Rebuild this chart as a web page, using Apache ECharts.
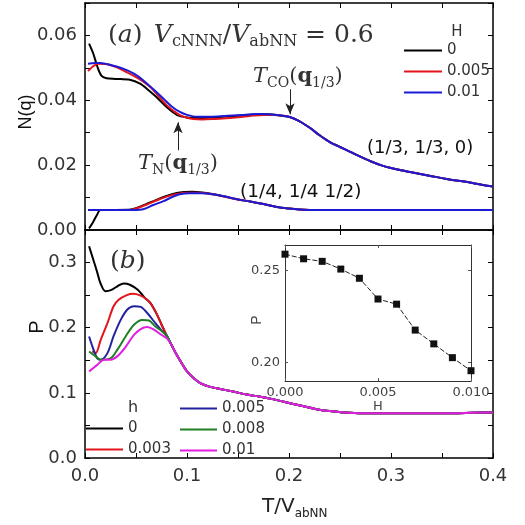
<!DOCTYPE html>
<html><head><meta charset="utf-8">
<script src="https://cdn.jsdelivr.net/npm/echarts@6/dist/echarts.min.js"></script>
<style>html,body{margin:0;padding:0;background:#fff}#c{width:525px;height:525px}</style>
</head><body><div id="c"></div>
<script>
// ---------- (a) N(q) for q = (1/3,1/3,0) ----------
const thirdT_H0   = [0.004,0.008,0.012,0.016,0.021,0.030,0.044,0.054,0.062,0.070,0.080,0.090,0.100,0.110,0.120,0.130,0.140,0.150,0.160,0.170,0.180,0.190,0.200];
const thirdN_H0   = [0.0575,0.0545,0.0505,0.0476,0.0468,0.0466,0.0463,0.0451,0.0432,0.0410,0.0379,0.0355,0.0347,0.0345,0.0346,0.0348,0.0350,0.0352,0.0355,0.0357,0.0357,0.0354,0.0349];
const thirdT_H005 = [0.003,0.008,0.013,0.020,0.030,0.040,0.047,0.055,0.064,0.072,0.080,0.087,0.093,0.100,0.106,0.115,0.125,0.135,0.145,0.155,0.165,0.175,0.185,0.195,0.200];
const thirdN_H005 = [0.0490,0.0505,0.0513,0.0512,0.0503,0.0488,0.0477,0.0462,0.0441,0.0413,0.0385,0.0367,0.0354,0.0346,0.0342,0.0341,0.0342,0.0344,0.0346,0.0349,0.0353,0.0355,0.0355,0.0352,0.0349];
const thirdT_H01  = [0.003,0.010,0.015,0.025,0.038,0.048,0.057,0.067,0.077,0.085,0.093,0.100,0.110,0.120,0.130,0.140,0.150,0.160,0.170,0.180,0.190,0.200];
const thirdN_H01  = [0.0513,0.0515,0.0515,0.0509,0.0497,0.0482,0.0462,0.0434,0.0405,0.0381,0.0364,0.0355,0.0349,0.0349,0.0350,0.0352,0.0354,0.0356,0.0358,0.0357,0.0354,0.0349];
// common high-T part (curves coincide)
const thirdTailT  = [0.21,0.22,0.23,0.24,0.25,0.26,0.27,0.28,0.29,0.30,0.31,0.32,0.33,0.34,0.35,0.36,0.37,0.38,0.39,0.40];
const thirdTailN  = [0.0336,0.0316,0.0292,0.0271,0.0256,0.0241,0.0226,0.0212,0.0200,0.0191,0.0184,0.0178,0.0172,0.0166,0.0160,0.0154,0.0150,0.0145,0.0139,0.0134];

// ---------- (a) N(q) for q = (1/4,1/4,1/2) ----------
const quartT_H0   = [0.004,0.008,0.012,0.015,0.030,0.045,0.050,0.060,0.070,0.080,0.090,0.097,0.105,0.115,0.125,0.136,0.150,0.162,0.175,0.188,0.200];
const quartN_H0   = [0.0005,0.0025,0.0048,0.0062,0.0062,0.0063,0.0067,0.0080,0.0093,0.0105,0.0114,0.0117,0.0118,0.0116,0.0111,0.0104,0.0094,0.0088,0.0080,0.0071,0.0066];
const quartT_H005 = [0.003,0.015,0.030,0.045,0.050,0.060,0.070,0.080,0.090,0.100,0.110,0.125,0.136,0.150,0.162,0.175,0.188,0.200];
const quartN_H005 = [0.0062,0.0062,0.0062,0.0062,0.0066,0.0078,0.0091,0.0103,0.0111,0.0115,0.0115,0.0110,0.0103,0.0094,0.0088,0.0080,0.0071,0.0066];
const quartT_H01  = [0.003,0.015,0.030,0.050,0.057,0.067,0.077,0.085,0.093,0.103,0.115,0.125,0.136,0.150,0.162,0.175,0.188,0.200];
const quartN_H01  = [0.0062,0.0062,0.0062,0.0062,0.0064,0.0077,0.0089,0.0101,0.0110,0.0113,0.0113,0.0110,0.0104,0.0094,0.0088,0.0080,0.0071,0.0066];
const quartTailT  = [0.21,0.22,0.25,0.30,0.35,0.40];
const quartTailN  = [0.0063,0.0062,0.0062,0.0062,0.0062,0.0062];

// ---------- (b) P ----------
const pT_h0    = [0.004,0.008,0.012,0.015,0.020,0.026,0.032,0.038,0.044,0.052,0.058,0.064,0.070,0.075,0.080];
const pP_h0    = [0.325,0.305,0.285,0.269,0.256,0.258,0.264,0.268,0.266,0.258,0.247,0.238,0.222,0.205,0.188];
const pT_h003  = [0.007,0.0105,0.0154,0.022,0.028,0.033,0.041,0.047,0.054,0.060,0.064,0.070,0.075,0.080];
const pP_h003  = [0.1636,0.161,0.1815,0.207,0.233,0.243,0.250,0.252,0.2497,0.244,0.238,0.222,0.205,0.188];
const pT_h005  = [0.004,0.008,0.012,0.0154,0.022,0.028,0.035,0.0415,0.048,0.0546,0.061,0.069,0.075,0.080];
const pP_h005  = [0.1866,0.168,0.153,0.151,0.161,0.187,0.212,0.228,0.233,0.232,0.2226,0.207,0.196,0.188];
const pT_h008  = [0.004,0.0105,0.015,0.025,0.0316,0.040,0.048,0.056,0.0627,0.069,0.075,0.080];
const pP_h008  = [0.1636,0.156,0.151,0.153,0.166,0.187,0.2046,0.212,0.211,0.202,0.195,0.188];
const pT_h01   = [0.004,0.012,0.0186,0.025,0.0316,0.040,0.048,0.0546,0.061,0.0676,0.074,0.080];
const pP_h01   = [0.133,0.143,0.151,0.151,0.156,0.171,0.189,0.198,0.201,0.197,0.190,0.184];
const pTailT   = [0.085,0.090,0.095,0.100,0.107,0.113,0.121,0.129,0.145,0.160,0.172,0.185,0.194,0.210,0.227,0.240,0.253,0.273,0.300,0.330,0.361,0.380,0.400];
const pTailP   = [0.173,0.158,0.145,0.133,0.122,0.115,0.110,0.107,0.102,0.097,0.094,0.090,0.0866,0.081,0.075,0.072,0.070,0.0688,0.0688,0.0688,0.0688,0.0695,0.070];

// ---------- inset: P vs H ----------
const insetH = [0.000,0.001,0.002,0.003,0.004,0.005,0.006,0.007,0.008,0.009,0.010];
const insetP = [0.259,0.2565,0.2551,0.2509,0.2459,0.2346,0.2318,0.2177,0.2102,0.2027,0.1956];

// ---------- arrows (data coords) ----------
const arrowTCO = [0.201, 0.0434, 0.0357];   // T, N from, N to
const arrowTN  = [0.0912, 0.0246, 0.0332];

// ---------- tick label sets ----------
const xTickLabels = ['0.0','0.1','0.2','0.3','0.4'];
const nTickLabels = ['0.00','0.02','0.04','0.06'];
const pTickLabels = ['0.0','0.1','0.2','0.3'];
const insetPTicks = [0.20, 0.25];

const zip = (xs, ys) => xs.map((x, i) => [x, ys[i]]);
const withTail = (t, v, tt, tv) => zip(t.concat(tt), v.concat(tv));

const SANS = 'DejaVu Sans', ARIAL = 'Liberation Sans', SERIF = 'DejaVu Serif', TXT = '#333';
const C = { black:'#000000', red:'#e3141c', blue:'#1b1bd6', navy:'#22229e', green:'#1f7f22', mag:'#e21ee2' };

function xAx(grid, pos, labels, extra) {
  return Object.assign({
    gridIndex: grid, type: 'value', position: pos, min: 0, max: 0.4, interval: 0.05,
    axisLine: { onZero: false, lineStyle: { color: '#000', width: 1.5 } },
    axisTick: { inside: true, length: 5, lineStyle: { color: '#000', width: 1 } },
    axisLabel: labels ? {
      margin: 9, color: TXT, fontFamily: SANS, fontSize: 18,
      formatter: v => { const k = Math.round(v * 100); return k % 10 === 0 ? xTickLabels[k / 10] : ''; }
    } : { show: false },
    splitLine: { show: false }
  }, extra || {});
}
function yAx(grid, pos, min, max, interval, labels, fmt) {
  return {
    gridIndex: grid, type: 'value', position: pos, min, max, interval,
    axisLine: { onZero: false, lineStyle: { color: '#000', width: 1.5 } },
    axisTick: { inside: true, length: 5, lineStyle: { color: '#000', width: 1 } },
    axisLabel: labels ? { margin: 8, color: TXT, fontFamily: SANS, fontSize: 18, formatter: fmt } : { show: false },
    splitLine: { show: false }
  };
}
const insetAxisBase = {
  axisLine: { onZero: false, lineStyle: { color: '#333', width: 1 } },
  axisTick: { inside: true, length: 3, lineStyle: { color: '#555' } },
  splitLine: { show: false }
};

function line(name, data, color, xi, yi, extra) {
  return Object.assign({
    name, type: 'line', data, xAxisIndex: xi, yAxisIndex: yi,
    symbol: 'none', smooth: 0.3, color,
    lineStyle: { color, width: 2 }
  }, extra || {});
}

const legendBase = { orient: 'vertical', padding: 0, icon: 'rect', itemHeight: 2, itemGap: 6,
  selectedMode: false, textStyle: { fontFamily: SANS, fontSize: 15, color: TXT, lineHeight: 14 },
  formatter: n => n.split('=')[1] };

const arrowStyle = { silent: true, symbol: ['none', 'arrow'], symbolSize: [7, 11], animation: false,
  lineStyle: { color: '#222', width: 1, type: 'solid' }, label: { show: false } };

const option = {
  animation: false,
  backgroundColor: '#fff',
  grid: [
    { left: 85, top: 3, width: 408, height: 227 },
    { left: 85, top: 230, width: 408, height: 228 },
    { left: 285, top: 245, width: 186, height: 136, show: true, backgroundColor: '#fff', borderWidth: 0 }
  ],
  xAxis: [
    xAx(0, 'bottom', false), xAx(0, 'top', false),
    xAx(1, 'bottom', true), xAx(1, 'top', false),
    Object.assign({ gridIndex: 2, type: 'value', position: 'bottom', min: 0, max: 0.010, interval: 0.005,
      axisLabel: { margin: 5, color: '#444', fontFamily: SANS, fontSize: 13, formatter: v => v.toFixed(3) } }, insetAxisBase),
    Object.assign({ gridIndex: 2, type: 'value', position: 'top', min: 0, max: 0.010, interval: 0.005,
      axisLabel: { show: false } }, insetAxisBase)
  ],
  yAxis: [
    yAx(0, 'left', 0, 0.07, 0.01, true, v => { const k = Math.round(v * 100); return k % 2 === 0 ? nTickLabels[k / 2] : ''; }),
    yAx(0, 'right', 0, 0.07, 0.01, false),
    yAx(1, 'left', 0, 0.35, 0.05, true, v => { const k = Math.round(v * 100); return k % 10 === 0 ? pTickLabels[k / 10] : ''; }),
    yAx(1, 'right', 0, 0.35, 0.05, false),
    Object.assign({ gridIndex: 2, type: 'value', position: 'left', min: 0.19, max: 0.264,
      axisLabel: { margin: 5, color: '#444', fontFamily: SANS, fontSize: 13, customValues: insetPTicks, formatter: v => v.toFixed(2) } }, insetAxisBase,
      { axisTick: { inside: true, length: 3, customValues: insetPTicks, lineStyle: { color: '#555' } } }),
    Object.assign({ gridIndex: 2, type: 'value', position: 'right', min: 0.19, max: 0.264,
      axisLabel: { show: false } }, insetAxisBase,
      { axisTick: { inside: true, length: 3, customValues: insetPTicks, lineStyle: { color: '#555' } } })
  ],
  legend: [
    Object.assign({}, legendBase, { data: ['H=0', 'H=0.005', 'H=0.01'], left: 404, top: 43, itemWidth: 38 }),
    Object.assign({}, legendBase, { data: ['h=0', 'h=0.003'], left: 86, top: 421, itemWidth: 37 }),
    Object.assign({}, legendBase, { data: ['h=0.005', 'h=0.008', 'h=0.01'], left: 180, top: 401, itemWidth: 37 })
  ],
  series: [
    line('H=0', withTail(thirdT_H0, thirdN_H0, thirdTailT, thirdTailN), C.black, 0, 0),
    line('H=0', withTail(quartT_H0, quartN_H0, quartTailT, quartTailN), C.black, 0, 0),
    line('H=0.005', withTail(thirdT_H005, thirdN_H005, thirdTailT, thirdTailN), C.red, 0, 0),
    line('H=0.005', withTail(quartT_H005, quartN_H005, quartTailT, quartTailN), C.red, 0, 0),
    line('H=0.01', withTail(quartT_H01, quartN_H01, quartTailT, quartTailN), C.blue, 0, 0),
    line('H=0.01', withTail(thirdT_H01, thirdN_H01, thirdTailT, thirdTailN), C.blue, 0, 0, {
      markLine: Object.assign({}, arrowStyle, { data: [
        [{ coord: [arrowTCO[0], arrowTCO[1]] }, { coord: [arrowTCO[0], arrowTCO[2]] }],
        [{ coord: [arrowTN[0], arrowTN[1]] }, { coord: [arrowTN[0], arrowTN[2]] }]
      ] })
    }),
    line('h=0', withTail(pT_h0, pP_h0, pTailT, pTailP), C.black, 2, 2),
    line('h=0.003', withTail(pT_h003, pP_h003, pTailT, pTailP), C.red, 2, 2),
    line('h=0.005', withTail(pT_h005, pP_h005, pTailT, pTailP), C.navy, 2, 2),
    line('h=0.008', withTail(pT_h008, pP_h008, pTailT, pTailP), C.green, 2, 2),
    line('h=0.01', withTail(pT_h01, pP_h01, pTailT, pTailP), C.mag, 2, 2),
    { name: 'inset', type: 'line', data: zip(insetH, insetP), xAxisIndex: 4, yAxisIndex: 4,
      symbol: 'rect', symbolSize: 7, showSymbol: true, color: '#111', z: 5,
      itemStyle: { color: '#111' }, lineStyle: { color: '#222', width: 1, type: [5, 2] } }
  ],
  graphic: [
    { type: 'text', x: 108, y: 20, z: 100, style: {
      text: '{r|(}{i|a}{r|)}{sp|  }{i|V}{s|cNNN}{r|/}{i|V}{s|abNN}{r| = 0.6}',
      rich: {
        r: { fontFamily: SERIF, fontSize: 25, fill: TXT, lineHeight: 30 },
        i: { fontFamily: SERIF, fontSize: 25, fontStyle: 'italic', fill: TXT, lineHeight: 30 },
        sp: { fontFamily: SERIF, fontSize: 18, lineHeight: 30 },
        s: { fontFamily: SERIF, fontSize: 16, fill: TXT, lineHeight: 12, verticalAlign: 'bottom' }
      } } },
    { type: 'text', x: 110, y: 246, z: 100, style: {
      text: '{r|(}{i|b}{r|)}',
      rich: {
        r: { fontFamily: SERIF, fontSize: 25, fill: TXT, lineHeight: 30 },
        i: { fontFamily: SERIF, fontSize: 25, fontStyle: 'italic', fill: TXT, lineHeight: 30 }
      } } },
    { type: 'text', x: 253, y: 64, z: 100, style: {
      text: '{i|T}{s|CO}{r|(}{b|q}{s|1/3}{r|)}',
      rich: {
        r: { fontFamily: SERIF, fontSize: 21, fill: TXT, lineHeight: 26 },
        i: { fontFamily: SERIF, fontSize: 21, fontStyle: 'italic', fill: TXT, lineHeight: 26 },
        b: { fontFamily: SERIF, fontSize: 21, fontWeight: 'bold', fill: TXT, lineHeight: 26 },
        s: { fontFamily: SERIF, fontSize: 14, fill: TXT, lineHeight: 10, verticalAlign: 'bottom' }
      } } },
    { type: 'text', x: 138, y: 151, z: 100, style: {
      text: '{i|T}{s|N}{r|(}{b|q}{s|1/3}{r|)}',
      rich: {
        r: { fontFamily: SERIF, fontSize: 21, fill: TXT, lineHeight: 26 },
        i: { fontFamily: SERIF, fontSize: 21, fontStyle: 'italic', fill: TXT, lineHeight: 26 },
        b: { fontFamily: SERIF, fontSize: 21, fontWeight: 'bold', fill: TXT, lineHeight: 26 },
        s: { fontFamily: SERIF, fontSize: 14, fill: TXT, lineHeight: 10, verticalAlign: 'bottom' }
      } } },
    { type: 'text', x: 367, y: 148, z: 100, style: { text: '(1/3, 1/3, 0)', fontFamily: SANS, fontSize: 18, fill: '#111', align: 'left', verticalAlign: 'middle' } },
    { type: 'text', x: 240, y: 192, z: 100, style: { text: '(1/4, 1/4 1/2)', fontFamily: SANS, fontSize: 18.5, fill: '#111', align: 'left', verticalAlign: 'middle' } },
    { type: 'text', x: 457, y: 32, z: 100, style: { text: 'H', fontFamily: SANS, fontSize: 15, fill: TXT, align: 'center', verticalAlign: 'middle' } },
    { type: 'text', x: 133, y: 408, z: 100, style: { text: 'h', fontFamily: SANS, fontSize: 16, fill: TXT, align: 'center', verticalAlign: 'middle' } },
    { type: 'text', x: 26, y: 112, rotation: Math.PI / 2, z: 100, style: { text: 'N(q)', fontFamily: ARIAL, fontSize: 18, fill: '#111', align: 'center', verticalAlign: 'middle' } },
    { type: 'text', x: 37, y: 327, rotation: Math.PI / 2, z: 100, style: { text: 'P', fontFamily: ARIAL, fontSize: 20, fill: '#111', align: 'center', verticalAlign: 'middle' } },
    { type: 'text', x: 257, y: 320, rotation: Math.PI / 2, z: 100, style: { text: 'P', fontFamily: ARIAL, fontSize: 14, fill: '#444', align: 'center', verticalAlign: 'middle' } },
    { type: 'text', x: 378, y: 407, z: 100, style: { text: 'H', fontFamily: SANS, fontSize: 13, fill: '#444', align: 'center', verticalAlign: 'middle' } },
    { type: 'text', x: 262, y: 494, z: 100, style: {
      text: '{m|T/V}{s|abNN}',
      rich: {
        m: { fontFamily: SANS, fontSize: 20, fill: '#222', lineHeight: 26 },
        s: { fontFamily: SANS, fontSize: 12, fill: '#222', lineHeight: 10, verticalAlign: 'bottom' }
      } } }
  ]
};

const chart = echarts.init(document.getElementById('c'), null, { renderer: 'canvas' });
chart.setOption(option);
</script>
</body></html>
